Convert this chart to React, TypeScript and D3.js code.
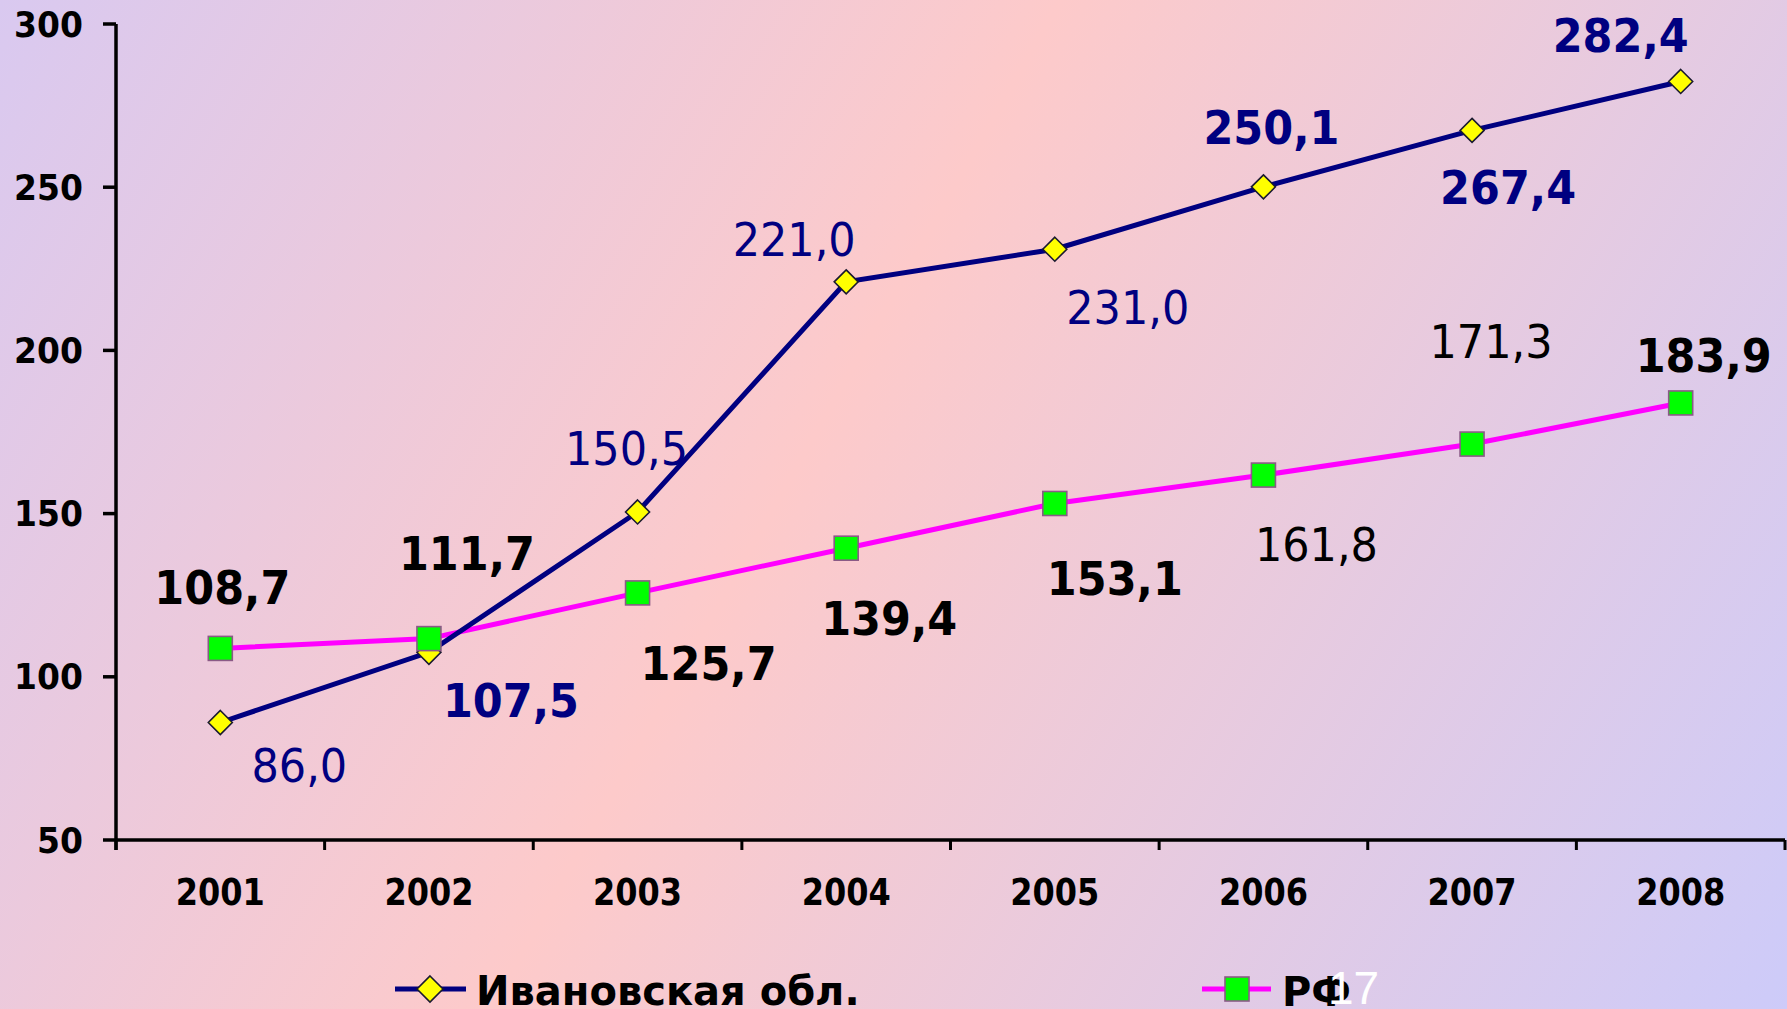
import React from "react";
import * as d3 from "d3";

const years = ["2001", "2002", "2003", "2004", "2005", "2006", "2007", "2008"];
const ivanovoValues = [86.0, 107.5, 150.5, 221.0, 231.0, 250.1, 267.4, 282.4];
const rfValues = [108.7, 111.7, 125.7, 139.4, 153.1, 161.8, 171.3, 183.9];
const yTicks = [50, 100, 150, 200, 250, 300];
const seriesNames = ["Ивановская обл.", "РФ"];

// label layout (offsets from the point, in px) and weights
const ivanovoLabelOffsets: [number, number][] = [
  [79, 43], [82, 48], [-11, -64], [-52, -43], [73, 58], [8, -60], [36, 57], [-60, -46],
];
const ivanovoBold = [false, true, false, false, false, true, true, true];
const rfLabelOffsets: [number, number][] = [
  [2, -61], [38, -86], [71, 70], [43, 70], [60, 75], [53, 69], [19, -103], [23, -48],
];
const rfBold = [true, true, true, true, true, false, false, true];

const W = 1787;
const H = 1009;
const FONT = "'DejaVu Sans', Verdana, sans-serif";
const fmt = (v: number) => v.toFixed(1).replace(".", ",");

function StretchText(props: {
  x: number; y: number; size: number; k: number; bold?: boolean; fill: string;
  anchor?: "start" | "middle" | "end"; children: React.ReactNode;
}) {
  const { x, y, size, k, bold, fill, anchor = "middle", children } = props;
  return (
    <g transform={`translate(${x},${y}) scale(1,${k})`}>
      <text
        x={0}
        y={0.365 * size}
        textAnchor={anchor}
        fontFamily={FONT}
        fontSize={size}
        fontWeight={bold ? "bold" : "normal"}
        fill={fill}
      >
        {children}
      </text>
    </g>
  );
}

export default function App() {
  const left = 116;
  const right = 1785;
  const top = 24;
  const bottom = 840;

  const x = d3.scaleBand<string>().domain(years).range([left, right]);
  const cx = (d: string) => (x(d) as number) + x.bandwidth() / 2;
  const y = d3.scaleLinear().domain([50, 300]).range([bottom, top]);

  const line = d3
    .line<number>()
    .x((_, i) => cx(years[i]))
    .y((v) => y(v));

  const navy = "#000080";
  const magenta = "#ff00ff";

  const diamond = (px: number, py: number, r: number, key?: string) => (
    <path
      key={key}
      d={`M${px},${py - r}L${px + r},${py}L${px},${py + r}L${px - r},${py}Z`}
      fill="#ffff00"
      stroke="#1a1a30"
      strokeWidth={1.6}
    />
  );
  const square = (px: number, py: number, s: number, key?: string) => (
    <rect
      key={key}
      x={px - s / 2}
      y={py - s / 2}
      width={s}
      height={s}
      fill="#00ff00"
      stroke="#8a5a86"
      strokeWidth={1.6}
    />
  );

  const boundaries = years.map((d) => x(d) as number).concat([right]);

  return (
    <svg
      width={W}
      height={H}
      style={{ position: "absolute", left: 0, top: 0, display: "block" }}
    >
      <defs>
        <linearGradient id="bg" gradientUnits="userSpaceOnUse" x1={0} y1={0} x2={W} y2={H}>
          <stop offset="0" stopColor="#d9c9f0" />
          <stop offset="0.45" stopColor="#fdcaca" />
          <stop offset="1" stopColor="#cdcbf9" />
        </linearGradient>
      </defs>
      <rect x={0} y={0} width={W} height={H} fill="url(#bg)" />

      {/* axes */}
      <line x1={left} y1={top} x2={left} y2={bottom + 10} stroke="#000" strokeWidth={3.5} />
      <line x1={left} y1={bottom} x2={right} y2={bottom} stroke="#000" strokeWidth={3.5} />
      {yTicks.map((t) => (
        <g key={t}>
          <line x1={left - 13} x2={left} y1={y(t)} y2={y(t)} stroke="#000" strokeWidth={3.5} />
          <StretchText x={83} y={y(t)} size={33} k={1.05} bold fill="#000" anchor="end">
            {t}
          </StretchText>
        </g>
      ))}
      {boundaries.map((b, i) => (
        <line key={i} x1={b} x2={b} y1={bottom} y2={bottom + 10} stroke="#000" strokeWidth={3} />
      ))}
      {years.map((d) => (
        <StretchText key={d} x={cx(d)} y={891} size={32} k={1.17} bold fill="#000">
          {d}
        </StretchText>
      ))}

      {/* lines */}
      <path d={line(rfValues) || ""} fill="none" stroke={magenta} strokeWidth={5} />
      <path d={line(ivanovoValues) || ""} fill="none" stroke={navy} strokeWidth={5} />
      {ivanovoValues.map((v, i) => diamond(cx(years[i]), y(v), 12, "d" + i))}
      {rfValues.map((v, i) => square(cx(years[i]), y(v), 24, "s" + i))}

      {/* labels */}
      {ivanovoValues.map((v, i) => (
        <StretchText
          key={"li" + i}
          x={cx(years[i]) + ivanovoLabelOffsets[i][0]}
          y={y(v) + ivanovoLabelOffsets[i][1]}
          size={43}
          k={1.08}
          bold={ivanovoBold[i]}
          fill={navy}
        >
          {fmt(v)}
        </StretchText>
      ))}
      {rfValues.map((v, i) => (
        <StretchText
          key={"lr" + i}
          x={cx(years[i]) + rfLabelOffsets[i][0]}
          y={y(v) + rfLabelOffsets[i][1]}
          size={43}
          k={1.08}
          bold={rfBold[i]}
          fill="#000"
        >
          {fmt(v)}
        </StretchText>
      ))}

      {/* legend */}
      <line x1={395} x2={466} y1={989} y2={989} stroke={navy} strokeWidth={5} />
      {diamond(430, 989, 13)}
      <text x={476} y={1005} fontFamily={FONT} fontSize={40} fontWeight="bold" fill="#000">
        {seriesNames[0]}
      </text>
      <line x1={1202} x2={1271} y1={989} y2={989} stroke={magenta} strokeWidth={5} />
      {square(1237, 989, 24)}
      <text x={1282} y={1006} fontFamily={FONT} fontSize={40} fontWeight="bold" fill="#000">
        {seriesNames[1]}
      </text>
      <text x={1328} y={1004} fontFamily="'Liberation Sans', Arial, sans-serif" fontSize={46} fill="#ffffff">
        17
      </text>
    </svg>
  );
}
